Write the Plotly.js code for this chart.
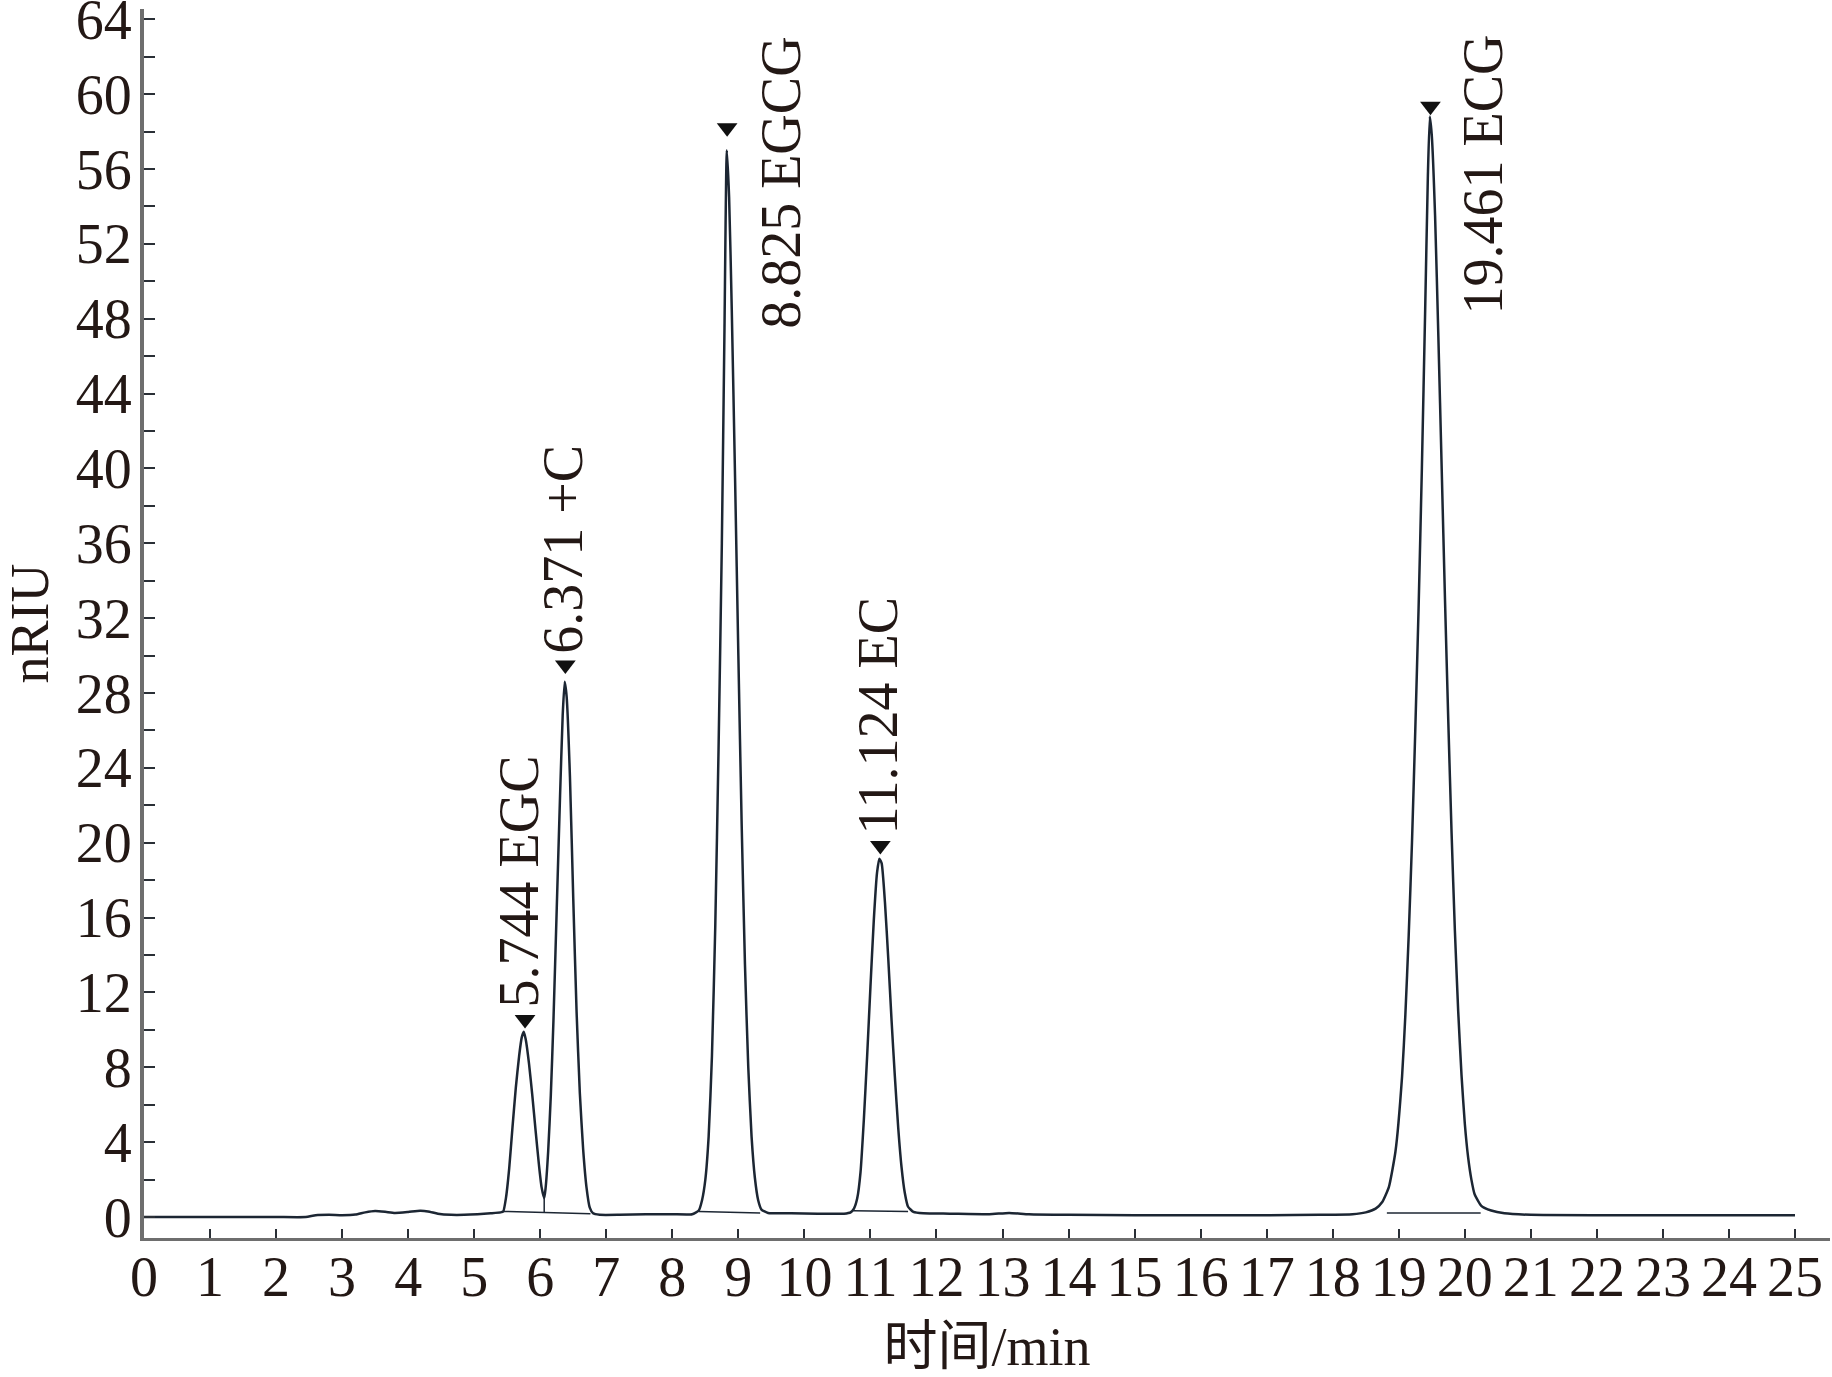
<!DOCTYPE html>
<html>
<head>
<meta charset="utf-8">
<script src="https://cdn.plot.ly/plotly-3.0.1.min.js"></script>
<style>
html,body{margin:0;padding:0;background:#fff;}
#chart{width:1832px;height:1377px;}
</style>
</head>
<body>
<div id="chart"></div>
<script>
// Chromatogram: retention time (min) and signal (nRIU)
const timeMin = [
  0, 1, 2, 2.45, 2.6, 2.8, 3.0, 3.2, 3.35, 3.5, 3.65, 3.8, 4.0, 4.18, 4.3, 4.45, 4.65, 4.85, 5.05, 5.25, 5.40,
  5.44, 5.48, 5.53, 5.58, 5.63, 5.68, 5.72, 5.75, 5.78, 5.83, 5.88, 5.93, 5.98, 6.02, 6.06,
  6.08, 6.12, 6.16, 6.20, 6.25, 6.30, 6.34, 6.37, 6.40, 6.45, 6.50, 6.55, 6.60, 6.65, 6.70, 6.75, 6.80,
  6.9, 7.2, 7.6, 8.0, 8.3,
  8.40, 8.45, 8.50, 8.55, 8.60, 8.65, 8.70, 8.75, 8.79, 8.825, 8.86, 8.90, 8.95, 9.00, 9.05, 9.10, 9.15, 9.20, 9.25, 9.30, 9.35, 9.45,
  9.8, 10.2, 10.6,
  10.70, 10.75, 10.80, 10.85, 10.90, 10.95, 11.00, 11.05, 11.10, 11.135, 11.17, 11.22, 11.27, 11.32, 11.37, 11.42, 11.47, 11.52, 11.57, 11.65,
  11.8, 12.2, 12.8, 13.1, 13.4, 14, 15, 16, 17, 17.8, 18.3,
  18.5, 18.65, 18.75, 18.85, 18.95, 19.05, 19.10, 19.15, 19.20, 19.25, 19.30, 19.35, 19.40, 19.44, 19.47, 19.50, 19.55, 19.60, 19.65, 19.70,
  19.75, 19.80, 19.85, 19.90, 19.95, 20.00, 20.05, 20.10, 20.15, 20.25, 20.40, 20.60,
  21.0, 22.0, 23.0, 24.0, 25.0
];
const signal = [
  0, 0, 0, 0, 0.1, 0.12, 0.1, 0.13, 0.25, 0.32, 0.28, 0.22, 0.27, 0.33, 0.3, 0.18, 0.12, 0.12, 0.15, 0.2, 0.25,
  0.3, 1.0, 2.6, 4.8, 6.9, 8.6, 9.6, 9.9, 9.5, 8.2, 6.5, 4.6, 2.8, 1.6, 1.0,
  1.5, 3.5, 6.5, 10.5, 16.5, 22.5, 26.8, 28.6, 27.8, 23.5, 17.0, 11.0, 6.6, 3.6, 1.6, 0.5, 0.2,
  0.12, 0.12, 0.15, 0.15, 0.15,
  0.35, 0.9, 2.0, 4.3, 8.6, 15.5, 25.0, 36.0, 47.5, 57.0, 54.5, 48.5, 39.5, 30.0, 21.0, 13.5, 8.0, 4.3, 2.1, 0.9, 0.4, 0.22,
  0.2, 0.18, 0.18,
  0.25, 0.45, 1.0, 2.4, 5.2, 8.6, 12.3, 15.8, 18.4, 19.15, 18.9, 16.8, 13.8, 10.5, 7.5, 4.8, 2.7, 1.3, 0.55, 0.28,
  0.2, 0.18, 0.15, 0.22, 0.15, 0.12, 0.1, 0.1, 0.1, 0.12, 0.15,
  0.25, 0.45, 0.8, 1.6, 3.5, 7.5, 10.8, 15.0, 20.0, 26.0, 32.5, 40.0, 48.5, 55.5, 58.8, 57.8, 53.5, 47.0, 40.0, 33.0,
  26.5, 20.5, 15.3, 11.0, 7.6, 5.0, 3.2, 2.0, 1.2, 0.6, 0.35, 0.2,
  0.12, 0.1, 0.1, 0.1, 0.1
];

// Integration baselines drawn under the peaks
const baseX1 = [5.44, 6.76];   const baseY1 = [0.30, 0.18];
const dropX  = [6.06, 6.06];   const dropY  = [0.24, 1.0];
const baseX2 = [8.40, 9.33];   const baseY2 = [0.30, 0.22];
const baseX3 = [10.74, 11.57]; const baseY3 = [0.34, 0.30];
const baseX4 = [18.82, 20.24]; const baseY4 = [0.22, 0.22];

// Peak markers
const peakTime   = [5.77, 6.38, 8.83, 11.15, 19.48];
const peakMarkY  = [10.55, 29.5, 58.2, 19.85, 59.35];

// Peak labels
const labelText = ["5.744 EGC", "6.371 +C", "8.825 EGCG", "11.124 EC", "19.461 ECG"];
const labelX    = [5.68, 6.34, 9.645, 11.11, 20.27];
const labelY    = [11.1, 30.0, 47.35, 20.35, 48.1];

// Axis ticks
const xTicks = [0,1,2,3,4,5,6,7,8,9,10,11,12,13,14,15,16,17,18,19,20,21,22,23,24,25];
const yTicks = [0,4,8,12,16,20,24,28,32,36,40,44,48,52,56,60,64];

const serif = '"Liberation Serif", "Times New Roman", "Noto Sans CJK SC", serif';
const ink = '#231815';
const lineCol = '#1c2633';

const thin = {color: lineCol, width: 1.5};
const traces = [
  {x: timeMin, y: signal, mode: 'lines', line: {color: lineCol, width: 2.5, shape: 'spline', smoothing: 0.5}, hoverinfo: 'skip'},
  {x: baseX1, y: baseY1, mode: 'lines', line: thin},
  {x: dropX, y: dropY, mode: 'lines', line: thin},
  {x: baseX2, y: baseY2, mode: 'lines', line: thin},
  {x: baseX3, y: baseY3, mode: 'lines', line: thin},
  {x: baseX4, y: baseY4, mode: 'lines', line: thin},
  {x: peakTime, y: peakMarkY, mode: 'markers', marker: {symbol: 'triangle-down', size: 18, color: '#111'}}
];

const annotations = labelText.map((t, i) => ({
  x: labelX[i], y: labelY[i], xref: 'x', yref: 'y',
  text: t, showarrow: false, textangle: -90,
  xanchor: 'center', yanchor: 'bottom',
  font: {family: serif, size: 56, color: ink}
}));

const layout = {
  width: 1832, height: 1377,
  paper_bgcolor: '#ffffff', plot_bgcolor: '#ffffff',
  showlegend: false,
  margin: {l: 144, r: 2, t: 9, b: 139, pad: 0},
  xaxis: {
    range: [0, 25.53], autorange: false,
    tickvals: xTicks, ticktext: xTicks.map(String),
    ticks: 'inside', ticklen: 9, tickwidth: 2, tickcolor: '#2a2f36',
    showline: true, linewidth: 3, linecolor: '#6e6e6e',
    showgrid: false, zeroline: false,
    tickfont: {family: serif, size: 56, color: ink},
    ticklabelstandoff: -12,
    ticklabeloverflow: 'allow',
    title: {text: '时间/min', font: {family: serif, size: 54, color: ink}, standoff: 34},
    automargin: false
  },
  yaxis: {
    range: [-1.12, 64.55], autorange: false,
    tickvals: yTicks, ticktext: yTicks.map(String),
    ticks: 'inside', ticklen: 11, tickwidth: 2, tickcolor: '#2a2f36',
    minor: {dtick: 2, tick0: 0, ticks: 'inside', ticklen: 11, tickwidth: 2, tickcolor: '#2a2f36', showgrid: false},
    showline: true, linewidth: 4, linecolor: '#6e6e6e',
    showgrid: false, zeroline: false,
    tickfont: {family: serif, size: 56, color: ink},
    ticklabelstandoff: -3,
    ticklabeloverflow: 'allow',
    title: {text: 'nRIU', font: {family: serif, size: 54, color: ink}, standoff: 31},
    automargin: false
  },
  annotations: annotations
};

Plotly.newPlot('chart', traces, layout, {displayModeBar: false, staticPlot: true});
</script>
</body>
</html>
